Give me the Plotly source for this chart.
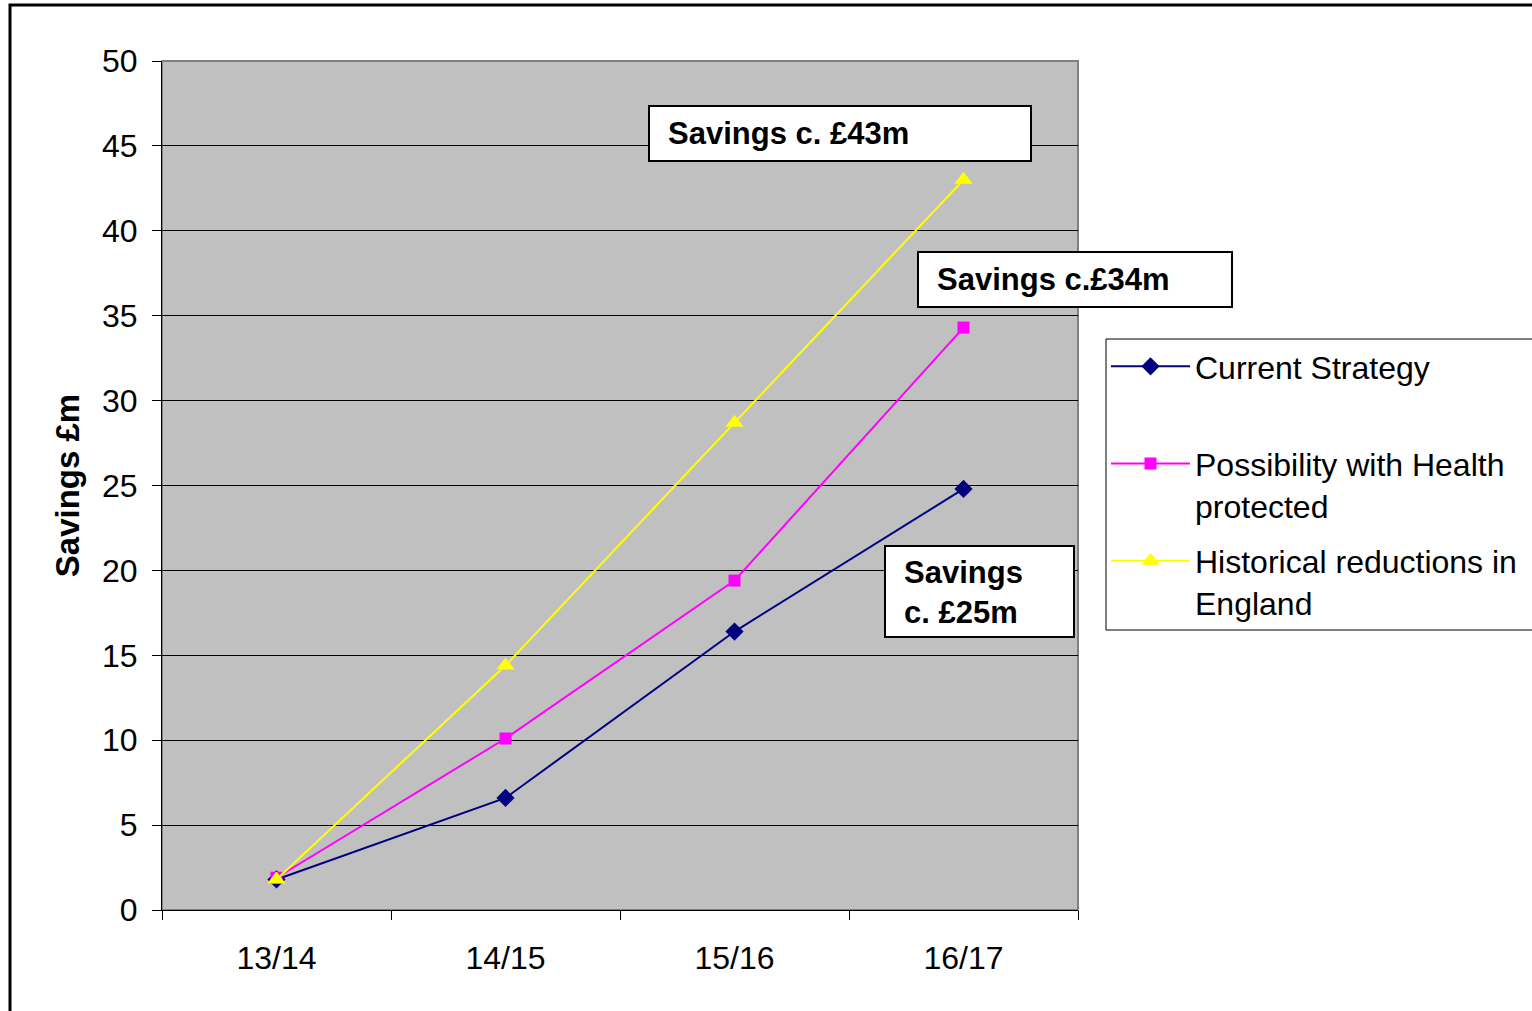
import plotly.graph_objects as go

years = ["13/14", "14/15", "15/16", "16/17"]
current = [1.8, 6.6, 16.4, 24.8]
health = [1.9, 10.1, 19.4, 34.3]
historical = [1.8, 14.4, 28.7, 43.0]
y_ticks = [0, 5, 10, 15, 20, 25, 30, 35, 40, 45, 50]

W, H = 1532, 1011
L, R, T, B = 162, 1078, 61, 910
pw, ph = R - L, B - T

def px(x):
    return (x - L) / pw

def py(y):
    return (B - y) / ph

FONT = "Arial, Liberation Sans, sans-serif"
FS = 32

fig = go.Figure()
fig.add_trace(go.Scatter(x=years, y=current, name="Current Strategy<br> ", mode="lines+markers",
                         legendgroup="a",
                         line=dict(color="#000080", width=2),
                         marker=dict(symbol="diamond", size=14, color="#000080")))
fig.add_trace(go.Scatter(x=years, y=health, name="Possibility with Health<br>protected", mode="lines+markers",
                         legendgroup="b",
                         line=dict(color="#FF00FF", width=2),
                         marker=dict(symbol="square", size=12, color="#FF00FF")))
fig.add_trace(go.Scatter(x=years, y=historical, name="Historical reductions in<br>England", mode="lines+markers",
                         legendgroup="c",
                         line=dict(color="#FFFF00", width=2),
                         marker=dict(symbol="triangle-up", size=16, color="#FFFF00")))

shapes = []
# outer chart border
shapes.append(dict(type="rect", xref="paper", yref="paper", x0=px(10), x1=px(1600), y0=py(1100), y1=py(5),
                   line=dict(color="black", width=3), layer="below"))
# plot area gray border
shapes.append(dict(type="rect", xref="paper", yref="paper", x0=0, x1=1, y0=0, y1=1,
                   line=dict(color="#808080", width=2), layer="below"))
# legend frame (runs off the right edge as in the original)
shapes.append(dict(type="rect", xref="paper", yref="paper", x0=px(1106), x1=px(1620), y0=py(630), y1=py(339),
                   line=dict(color="black", width=1), fillcolor="white", layer="below"))

annotations = []
def box(x0, y0, x1, y1, text, tx, ty):
    shapes.append(dict(type="rect", xref="paper", yref="paper", x0=px(x0), x1=px(x1), y0=py(y1), y1=py(y0),
                       line=dict(color="black", width=2), fillcolor="white", layer="above"))
    annotations.append(dict(xref="paper", yref="paper", x=px(tx), y=py(ty), xanchor="left", yanchor="middle",
                            text=text, showarrow=False, align="left",
                            font=dict(family=FONT, size=31, color="black")))

box(649, 106, 1031, 161, "<b>Savings c. £43m</b>", 666, 134)
box(918, 252, 1232, 307, "<b>Savings c.£34m</b>", 935, 280)
box(885, 546, 1074, 637, "<b>Savings<br>c. £25m</b>", 902, 592)

fig.update_layout(
    width=W, height=H,
    margin=dict(l=L, r=W - R, t=T, b=H - B, pad=0, autoexpand=False),
    paper_bgcolor="white", plot_bgcolor="#C0C0C0",
    font=dict(family=FONT, size=FS, color="black"),
    shapes=shapes, annotations=annotations,
    showlegend=True,
    legend=dict(x=px(1106), y=py(339), xanchor="left", yanchor="top",
                borderwidth=0, bgcolor="rgba(0,0,0,0)",
                font=dict(family=FONT, size=FS, color="black"),
                itemwidth=79, traceorder="grouped", tracegroupgap=11, valign="top"),
    xaxis=dict(type="category", range=[-0.5, 3.5], tickson="boundaries",
               ticks="outside", ticklen=9, tickcolor="black", tickwidth=1,
               showline=True, linecolor="black", linewidth=1, showgrid=False,
               tickfont=dict(family=FONT, size=FS), ticklabelstandoff=20),
    yaxis=dict(range=[0, 50], tickvals=y_ticks, ticks="outside", ticklen=9, tickcolor="black",
               showline=True, linecolor="black", linewidth=1,
               showgrid=True, gridcolor="black", gridwidth=1, zeroline=False,
               tickfont=dict(family=FONT, size=FS), ticklabelstandoff=8,
               title=dict(text="<b>Savings £m</b>", font=dict(family=FONT, size=33), standoff=12)),
)

fig.write_html("out.html")
